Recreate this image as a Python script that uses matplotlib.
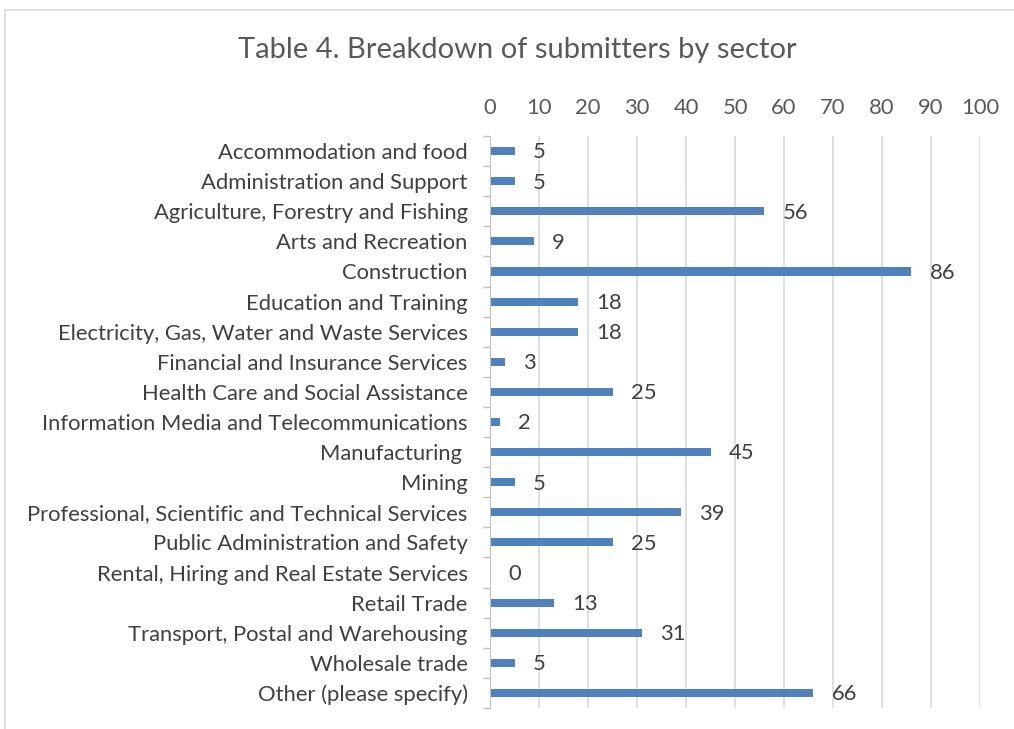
import matplotlib.pyplot as plt
from matplotlib.patches import Rectangle

plt.rcParams['font.family'] = ['Lato', 'DejaVu Sans']

sectors = ['Accommodation and food', 'Administration and Support',
           'Agriculture, Forestry and Fishing', 'Arts and Recreation',
           'Construction', 'Education and Training',
           'Electricity, Gas, Water and Waste Services',
           'Financial and Insurance Services',
           'Health Care and Social Assistance',
           'Information Media and Telecommunications', 'Manufacturing ',
           'Mining', 'Professional, Scientific and Technical Services',
           'Public Administration and Safety',
           'Rental, Hiring and Real Estate Services', 'Retail Trade',
           'Transport, Postal and Warehousing', 'Wholesale trade',
           'Other (please specify)']
counts = [5, 5, 56, 9, 86, 18, 18, 3, 25, 2, 45, 5, 39, 25, 0, 13, 31, 5, 66]
xticks = list(range(0, 101, 10))

text_col = '#595959'
grid_col = '#D9D9D9'
bar_col = '#4F81BD'
fs = 15.8

fig = plt.figure(figsize=(10.14, 7.29), dpi=100)
ax = fig.add_axes([490 / 1014, 1 - 708 / 729, 490 / 1014, 572 / 729])

# chart frame
fig.patches.append(Rectangle((5 / 1014, -0.1), 1.2, 1 - 10 / 729 + 0.1,
                             transform=fig.transFigure, fill=False,
                             edgecolor=grid_col, linewidth=1.2))

ypos = list(range(len(sectors)))
ax.barh(ypos, counts, height=0.27, color=bar_col, zorder=3)
for y, v in zip(ypos, counts):
    ax.annotate(str(v), (v, y), xytext=(13, -1), textcoords='offset points',
                va='center', ha='left', fontsize=fs, color='#404040')

ax.set_xlim(0, 100)
ax.set_ylim(len(sectors) - 0.5, -0.5)
ax.set_xticks(xticks)
ax.xaxis.tick_top()
ax.tick_params(axis='x', length=0, pad=13, labelsize=fs, labelcolor=text_col)
ax.set_yticks(ypos)
ax.set_yticklabels(sectors)
ax.tick_params(axis='y', which='major', length=0, pad=16, labelsize=fs,
               labelcolor='#404040')
ax.set_yticks([i - 0.5 for i in range(len(sectors) + 1)], minor=True)
ax.tick_params(axis='y', which='minor', length=5, color='#BFBFBF', width=1)
ax.grid(axis='x', color=grid_col, linewidth=1.2, zorder=0)
for s in ['top', 'right', 'bottom']:
    ax.spines[s].set_visible(False)
ax.spines['left'].set_color('#BFBFBF')
ax.spines['left'].set_zorder(4)

fig.text(517 / 1014, 1 - 50 / 729, 'Table 4. Breakdown of submitters by sector',
         ha='center', va='center', fontsize=21, color=text_col)

fig.savefig('out.png', dpi=100)
